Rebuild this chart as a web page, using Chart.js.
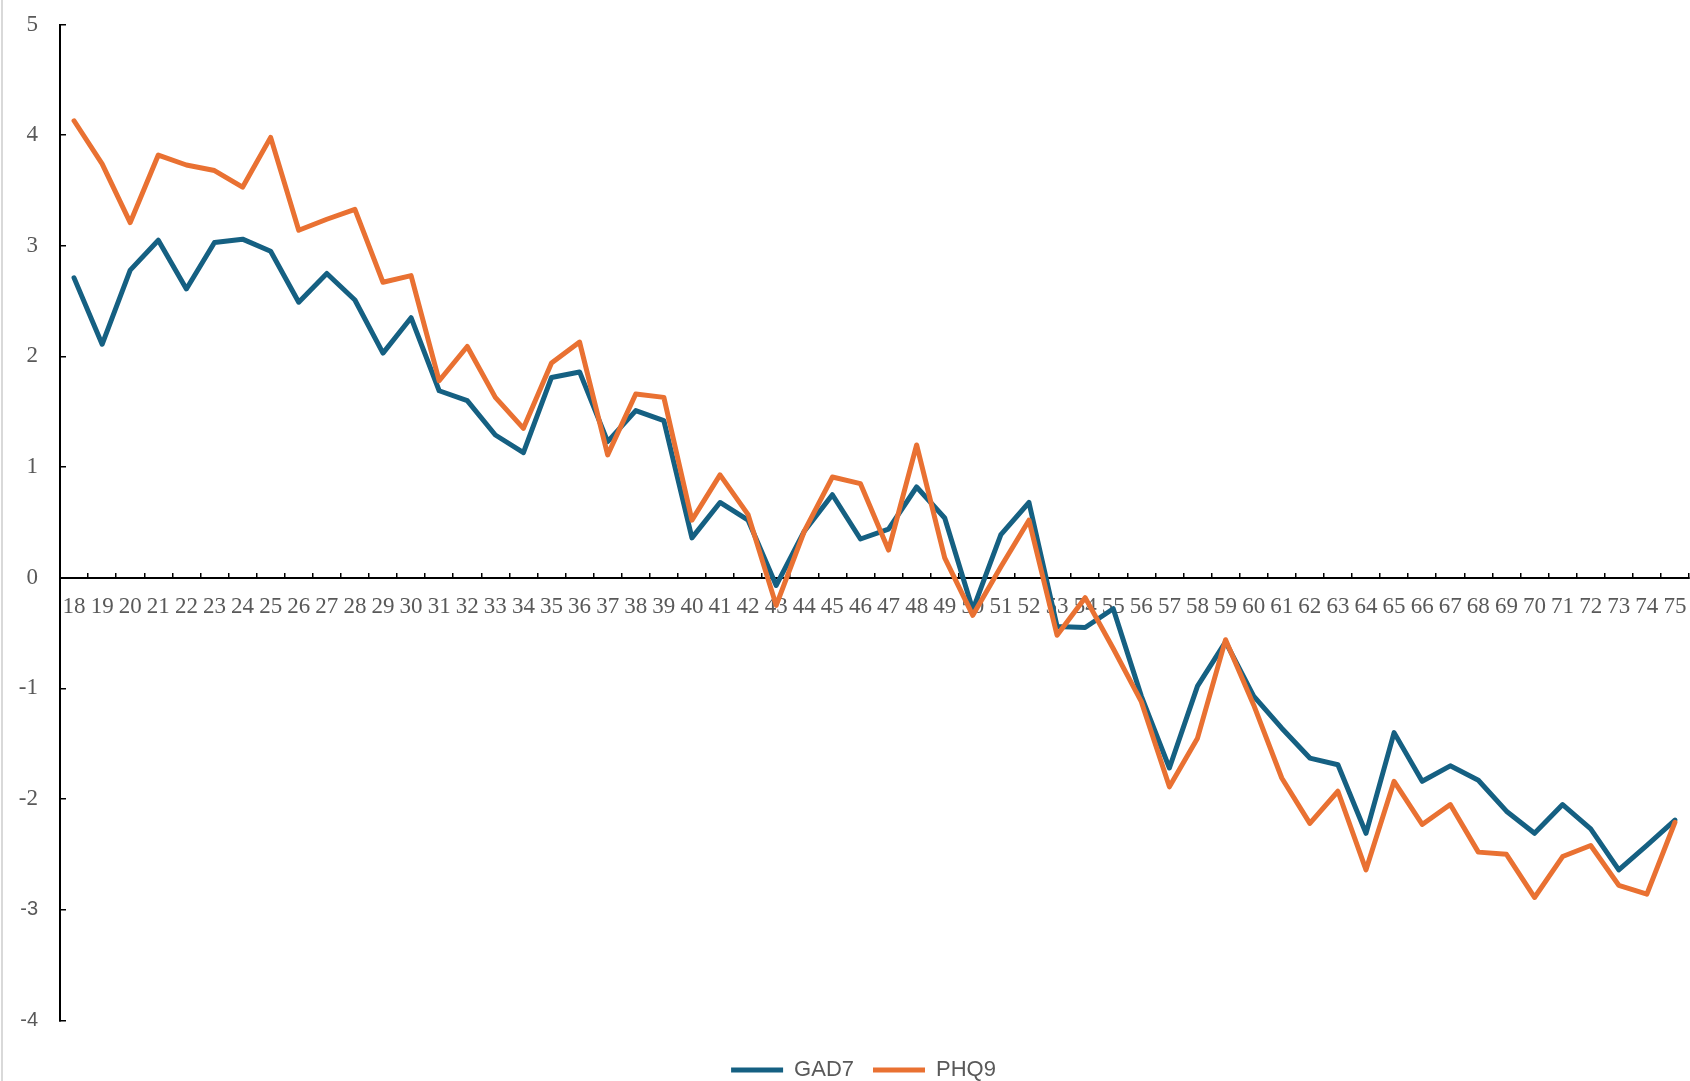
<!DOCTYPE html>
<html>
<head>
<meta charset="utf-8">
<script src="https://cdn.jsdelivr.net/npm/chart.js@4.4.1/dist/chart.umd.min.js"></script>
<style>
    html, body { margin: 0; padding: 0; background: #ffffff; }
    #scoreChart { display: block; }
</style>
</head>
<body>
<canvas id="scoreChart" width="1690" height="1081"></canvas>
<script>
const ages = ["18", "19", "20", "21", "22", "23", "24", "25", "26", "27",
    "28", "29", "30", "31", "32", "33", "34", "35", "36", "37",
    "38", "39", "40", "41", "42", "43", "44", "45", "46", "47",
    "48", "49", "50", "51", "52", "53", "54", "55", "56", "57",
    "58", "59", "60", "61", "62", "63", "64", "65", "66", "67",
    "68", "69", "70", "71", "72", "73", "74", "75"];

const gad7Values = [2.71, 2.11, 2.78, 3.05, 2.61, 3.03, 3.06, 2.95, 2.49, 2.75,
    2.51, 2.03, 2.35, 1.69, 1.60, 1.29, 1.13, 1.81, 1.86, 1.23,
    1.51, 1.42, 0.36, 0.68, 0.52, -0.07, 0.42, 0.75, 0.35, 0.44,
    0.82, 0.54, -0.29, 0.39, 0.68, -0.44, -0.45, -0.28, -1.07, -1.72,
    -0.98, -0.58, -1.07, -1.36, -1.63, -1.69, -2.31, -1.40, -1.84, -1.70,
    -1.83, -2.11, -2.31, -2.05, -2.27, -2.64, -2.42, -2.19];

const phq9Values = [4.13, 3.74, 3.21, 3.82, 3.73, 3.68, 3.53, 3.98, 3.14, 3.24,
    3.33, 2.67, 2.73, 1.78, 2.09, 1.63, 1.35, 1.94, 2.13, 1.11,
    1.66, 1.63, 0.52, 0.93, 0.57, -0.25, 0.42, 0.91, 0.85, 0.25,
    1.20, 0.18, -0.34, 0.10, 0.52, -0.52, -0.18, -0.64, -1.12, -1.89,
    -1.45, -0.56, -1.15, -1.81, -2.22, -1.93, -2.64, -1.84, -2.23, -2.05,
    -2.48, -2.50, -2.89, -2.52, -2.42, -2.78, -2.86, -2.21];

const yMin = -4;
const yMax = 5;

const gad7Color = "#156082";
const phq9Color = "#E97132";
const labelColor = "#595959";
const serifFont = "'Liberation Serif', 'Times New Roman', serif";
const sansFont = "'Liberation Sans', Arial, sans-serif";

// white page plus the thin grey frame edge on the left
const frameBackground = {
    id: "frameBackground",
    beforeDraw(chart) {
        const ctx = chart.ctx;
        ctx.save();
        ctx.fillStyle = "#ffffff";
        ctx.fillRect(0, 0, chart.width, chart.height);
        ctx.fillStyle = "#d9d9d9";
        ctx.fillRect(1, 0, 2, chart.height);
        ctx.restore();
    }
};

// slide the legend row a little to the left of the plot centre
const legendShift = {
    id: "legendShift",
    afterLayout(chart) {
        if (chart.legend) {
            chart.legend.left -= 11;
            chart.legend.right -= 11;
        }
    }
};

function buildDataset(label, values, color, order) {
    return {
        label: label,
        data: values,
        borderColor: color,
        backgroundColor: color,
        borderWidth: 5,
        borderJoinStyle: "round",
        borderCapStyle: "round",
        pointRadius: 0,
        pointHoverRadius: 0,
        tension: 0,
        fill: false,
        order: order
    };
}

const ctx = document.getElementById("scoreChart").getContext("2d");
const scoreChart = new Chart(ctx, {
    type: "line",
    data: {
        labels: ages,
        datasets: [
            buildDataset("GAD7", gad7Values, gad7Color, 1),
            buildDataset("PHQ9", phq9Values, phq9Color, 0)
        ]
    },
    options: {
        responsive: false,
        animation: false,
        devicePixelRatio: 1,
        layout: {
            padding: { left: 0, right: 1, top: 24.5, bottom: -10 }
        },
        plugins: {
            tooltip: { enabled: false },
            legend: {
                display: true,
                position: "bottom",
                fullSize: false,
                // empty title only keeps a gap between the plot and the keys
                title: {
                    display: true,
                    text: " ",
                    font: { size: 1 },
                    padding: { top: 0, bottom: 18.5 }
                },
                labels: {
                    usePointStyle: true,
                    pointStyle: "line",
                    pointStyleWidth: 52,
                    padding: 19,
                    color: labelColor,
                    font: { family: sansFont, size: 22 },
                    sort: (a, b) => a.datasetIndex - b.datasetIndex
                }
            }
        },
        scales: {
            x: {
                type: "category",
                position: { y: 0 },
                offset: true,
                grid: {
                    offset: true,
                    drawOnChartArea: false,
                    drawTicks: true,
                    tickLength: -6,
                    color: "#000000",
                    lineWidth: 1.5
                },
                border: { display: true, color: "#000000", width: 2 },
                ticks: {
                    autoSkip: false,
                    maxRotation: 0,
                    minRotation: 0,
                    padding: 21.5,
                    color: labelColor,
                    font: { family: serifFont, size: 23 }
                },
                afterFit(scale) {
                    scale.paddingLeft = 0;
                    scale.paddingRight = 0;
                }
            },
            y: {
                type: "linear",
                position: "left",
                min: yMin,
                max: yMax,
                grid: {
                    drawOnChartArea: false,
                    drawTicks: true,
                    tickLength: -6,
                    color: "#000000",
                    lineWidth: 1.5
                },
                border: { display: true, color: "#000000", width: 2 },
                ticks: {
                    stepSize: 1,
                    padding: 28,
                    color: labelColor,
                    // the lowest two labels come out in a sans face
                    font: (c) => (c.tick && c.tick.value <= -3)
                        ? { family: sansFont, size: 20 }
                        : { family: serifFont, size: 23 }
                },
                afterFit(scale) {
                    scale.width = 60;
                    scale.paddingTop = 0;
                    scale.paddingBottom = 0;
                }
            }
        }
    },
    plugins: [frameBackground, legendShift]
});
</script>
</body>
</html>
